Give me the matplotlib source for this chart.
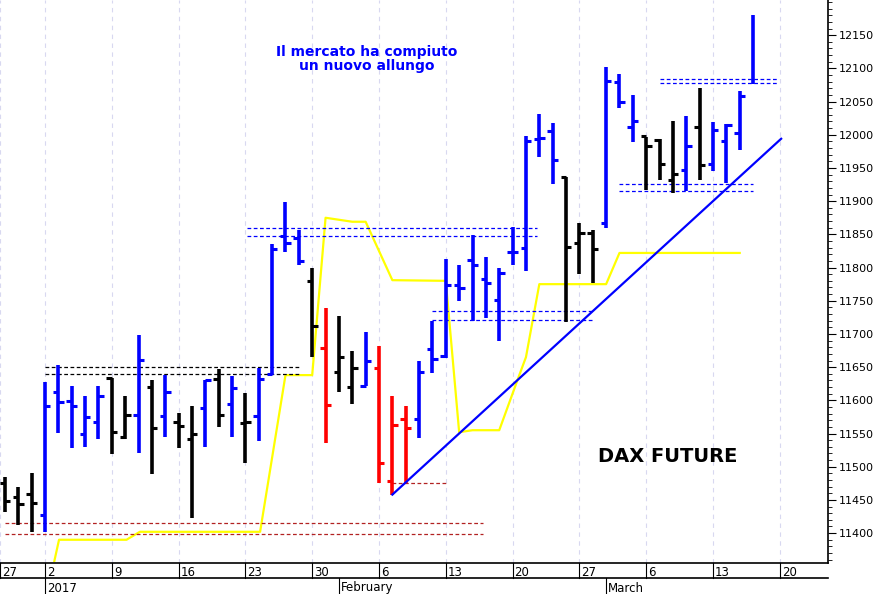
import matplotlib
matplotlib.use("Agg")
import matplotlib.pyplot as plt
import numpy as np
from matplotlib.lines import Line2D

# trading-day index (0 = 2 Jan 2017)
days = list(range(-3, 0)) + list(range(0, 54))
opens  = [11475,11455,11459, 11428,11612,11599,11549,11568,11634,11545,11578,11620,11576,11568,11542,11588,11632,11595,11566,11576,
          11640,11847,11844,11780,11679,11642,11620,11622,11648,11478,11572,11572,11677,11667,11774,11812,11783,11751,11823,11829,
          11993,12006,11936,11837,11852,11867,12080,12012,11998,11992,11932,11947,12012,11956,11991,12002,np.nan]
highs  = [11485,11470,11490, 11627,11653,11621,11606,11621,11634,11606,11699,11630,11638,11581,11592,11630,11647,11637,11611,11649,
          11836,11898,11857,11799,11739,11727,11675,11703,11682,11607,11591,11660,11720,11813,11804,11849,11816,11799,11861,11998,
          12032,12017,11937,11867,11856,12102,12091,12060,11997,11993,12021,12028,12071,12019,12016,12066,12180]
lows   = [11432,11412,11402, 11402,11551,11528,11530,11542,11519,11542,11521,11489,11545,11528,11423,11530,11560,11545,11506,11539,
          11638,11823,11804,11665,11536,11613,11594,11622,11475,11458,11475,11543,11641,11664,11749,11720,11724,11690,11804,11795,
          11966,11926,11718,11790,11777,11859,12040,11989,11917,11932,11913,11915,11932,11946,11928,11977,12076]
closes = [11448,11444,11446, 11592,11598,11592,11575,11607,11553,11578,11661,11558,11612,11561,11549,11630,11578,11618,11568,11632,
          11828,11837,11810,11712,11593,11666,11648,11660,11506,11563,11558,11643,11662,11774,11769,11804,11777,11792,11823,11990,
          11995,11962,11831,11852,11828,12081,12050,12020,11983,11956,11941,11983,11954,12007,12014,12058,np.nan]
colors = list("kkk" + "bbbbbkkbkbkkbkbkb" + "bbbkrkkbrrrbbbbbbbbb" + "bbkkkbbbkkkbkbbbb")
cmap = {"k": "black", "b": "#0000ff", "r": "#ff0000"}

yellow_x = [0.7,1.05,6.1,7.1,16.1,18,20,21,23,24,26,30,31,32,34,35.5,36,37,42,43,52]
yellow_y = [11358,11390,11390,11402,11402,11638,11638,11875,11869,11869,11781,11780,11552,11555,11555,11638,11665,11775,11775,11822,11822]

trend_x = [26, 55.1]
trend_y = [11458, 11994]

# (x0, x1, y, color)
levels = [(-3.0, 32.8, 11415, "#b22222"), (-3.0, 32.8, 11399, "#b22222"),
          (0, 19.1, 11650, "black"), (0, 19.1, 11640, "black"),
          (15.1, 36.8, 11860, "#0000ff"), (15.1, 36.8, 11848, "#0000ff"),
          (26, 30.1, 11476, "#b22222"),
          (29, 41, 11734, "#0000ff"), (29, 41, 11721, "#0000ff"),
          (43, 53, 11926, "#0000ff"), (43, 53, 11915, "#0000ff"),
          (46, 54.8, 12084, "#0000ff"), (46, 54.8, 12078, "#0000ff")]

week_pos = [-3.37, 0, 5, 10, 15, 20, 25, 30, 35, 40, 45, 50, 55]
week_lab = ["27", "2", "9", "16", "23", "30", "6", "13", "20", "27", "6", "13", "20"]
months = [(0, "2017"), (22, "February"), (42, "March")]

W, H = 877, 594
fig = plt.figure(figsize=(W/100, H/100), dpi=100)
ax = fig.add_axes([0, 1-563/H, 828/W, 563/H])
ppx = 13.36
ax.set_xlim(-45/ppx, (828-45)/ppx)
ax.set_ylim(11355, 12203)

for p in week_pos:
    ax.axvline(p, color="#d8d8f0", lw=0.8, ls=(0, (4, 4)), zorder=0)

for d, o, h, l, c, col in zip(days, opens, highs, lows, closes, colors):
    cc = cmap[col]
    ax.plot([d, d], [l, h], color=cc, lw=2.6, solid_capstyle="butt", zorder=3)
    if not np.isnan(o):
        ax.plot([d-0.4, d], [o, o], color=cc, lw=2.2, solid_capstyle="butt", zorder=3)
    if not np.isnan(c):
        ax.plot([d, d+0.4], [c, c], color=cc, lw=2.2, solid_capstyle="butt", zorder=3)

ax.plot(yellow_x, yellow_y, color="#ffff00", lw=1.6, zorder=2)
ax.plot(trend_x, trend_y, color="#0000ff", lw=1.6, zorder=4)
for x0, x1, y, c in levels:
    ax.plot([x0, x1], [y, y], color=c, lw=0.9, ls=(0, (3, 2)), zorder=2)

ax.text(24.1, 12114, "Il mercato ha compiuto\nun nuovo allungo",
        color="#0000ff", fontsize=10, fontweight="bold", ha="center", va="center", linespacing=1.0)
ax.text(46.6, 11516, "DAX FUTURE", color="black", fontsize=14, fontweight="bold", ha="center", va="center")

ax.yaxis.tick_right()
ax.set_yticks(np.arange(11400, 12151, 50))
ax.set_yticks(np.arange(11360, 12201, 10), minor=True)
ax.tick_params(axis="y", which="major", length=6, labelsize=8, pad=2, direction="out")
ax.tick_params(axis="y", which="minor", length=3, direction="out")
ax.set_xticks([])
for s in ["left", "top"]:
    ax.spines[s].set_visible(False)
ax.spines["right"].set_linewidth(1.2)
ax.spines["bottom"].set_linewidth(1.2)

# date axis rows
for p, lab in zip(week_pos, week_lab):
    xp = (45 + p*ppx)
    fig.text((xp+2)/W, 1-572/H, lab, fontsize=8.5, ha="left", va="center")
    fig.add_artist(Line2D([xp/W, xp/W], [1-563/H, 1-578/H], color="black", lw=0.8))
for p, lab in months:
    xp = 45 + p*ppx
    fig.text((xp+2)/W, 1-588/H, lab, fontsize=8.5, ha="left", va="center")
    fig.add_artist(Line2D([xp/W, xp/W], [1-578/H, 0], color="black", lw=0.8))
fig.add_artist(Line2D([0, 828/W], [1-578/H, 1-578/H], color="black", lw=1.2))

fig.savefig("out.png", dpi=100)
